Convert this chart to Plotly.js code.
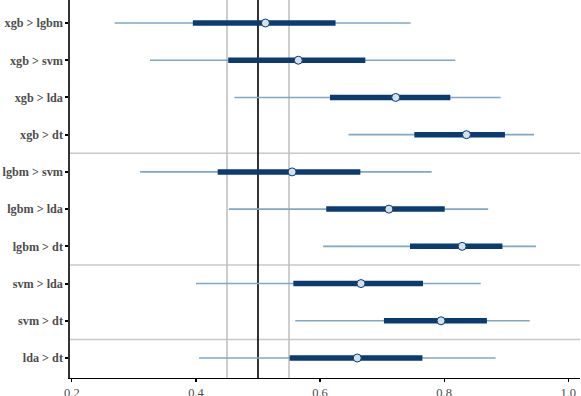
<!DOCTYPE html>
<html><head><meta charset="utf-8">
<script src="https://cdn.plot.ly/plotly-3.0.1.min.js"></script>
<style>html,body{margin:0;padding:0;background:#fff}</style>
</head><body><div id="chart" style="width:581px;height:396px"></div>
<script>
const comparisons = ["xgb > lgbm","xgb > svm","xgb > lda","xgb > dt","lgbm > svm","lgbm > lda","lgbm > dt","svm > lda","svm > dt","lda > dt"];
const outerLow  = [0.269,0.326,0.462,0.646,0.310,0.453,0.605,0.400,0.560,0.405];
const innerLow  = [0.395,0.452,0.616,0.752,0.435,0.610,0.745,0.557,0.703,0.551];
const medians   = [0.512,0.565,0.722,0.836,0.555,0.711,0.829,0.666,0.795,0.660];
const innerHigh = [0.625,0.673,0.810,0.898,0.665,0.801,0.894,0.766,0.869,0.765];
const outerHigh = [0.746,0.818,0.891,0.945,0.780,0.871,0.948,0.859,0.938,0.883];
const ropeLines = [0.45, 0.55];
const nullLine = 0.5;
const groupBreaks = [3.5, 6.5, 8.5];
const xTicks = [0.2,0.4,0.6,0.8,1.0];
const xTickText = ["0.2","0.4","0.6","0.8","1.0"];

const navy = "#0b3b70", light = "#7fa7c6";
const serif = "Liberation Serif";
const traces = [
  {type:"scatter", mode:"markers", x:medians, y:comparisons, marker:{size:0.1,color:"rgba(0,0,0,0)"},
   error_x:{type:"data", symmetric:false, array:medians.map((m,i)=>outerHigh[i]-m), arrayminus:medians.map((m,i)=>m-outerLow[i]), color:light, thickness:1.6, width:0},
   hoverinfo:"skip", showlegend:false},
  {type:"scatter", mode:"markers", x:medians, y:comparisons, marker:{size:0.1,color:"rgba(0,0,0,0)"},
   error_x:{type:"data", symmetric:false, array:medians.map((m,i)=>innerHigh[i]-m), arrayminus:medians.map((m,i)=>m-innerLow[i]), color:navy, thickness:5.5, width:0},
   hoverinfo:"skip", showlegend:false},
  {type:"scatter", mode:"markers", x:medians, y:comparisons,
   marker:{size:8, color:"#d3e1ee", line:{color:navy, width:1}}, showlegend:false}
];
const shapes = [];
groupBreaks.forEach(b=>shapes.push({type:"line", xref:"paper", x0:0, x1:1, yref:"y", y0:b, y1:b, line:{color:"#c8c8c8", width:1.5}, layer:"below"}));
ropeLines.forEach(v=>shapes.push({type:"line", xref:"x", x0:v, x1:v, yref:"paper", y0:0, y1:1, line:{color:"#bdbdbd", width:1.5}, layer:"below"}));
shapes.push({type:"line", xref:"x", x0:nullLine, x1:nullLine, yref:"paper", y0:0, y1:1, line:{color:"#000", width:1.6}, layer:"below"});

const layout = {
  width:581, height:396,
  margin:{l:70, r:1, t:0, b:18},
  paper_bgcolor:"#fff", plot_bgcolor:"#fff",
  font:{family:serif, color:"#4d4d4d", size:12},
  xaxis:{range:[0.197,1.019], tickvals:xTicks, ticktext:xTickText, showgrid:false, zeroline:false,
    showline:true, linecolor:"#000", linewidth:1.3, ticks:"outside", ticklen:3, tickcolor:"#000", tickwidth:1.2,
    tickfont:{family:serif, size:12.5, color:"#4d4d4d"}},
  yaxis:{type:"category", categoryorder:"array", categoryarray:comparisons, range:[9.537,-0.618],
    showgrid:false, zeroline:false, showline:true, linecolor:"#333", linewidth:1.6,
    ticks:"outside", ticklen:3, tickcolor:"#000", tickwidth:2,
    tickfont:{family:serif, size:12.2, color:"#4d4d4d", weight:"bold"}},
  shapes:shapes
};
Plotly.newPlot("chart", traces, layout, {displayModeBar:false, staticPlot:true});
</script></body></html>
